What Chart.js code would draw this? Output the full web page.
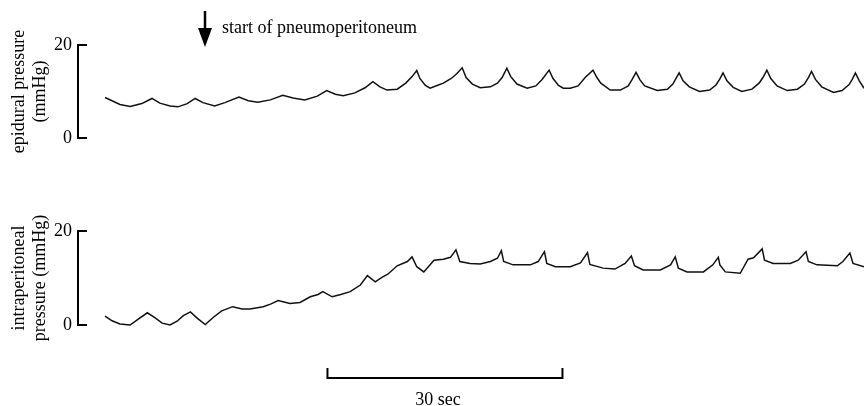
<!DOCTYPE html>
<html>
<head>
<meta charset="utf-8">
<script src="https://cdn.jsdelivr.net/npm/chart.js@4"></script>
<style>
    body { margin: 0; background: #fff; }
    #quadro { position: relative; width: 864px; height: 406px; }
    canvas { position: absolute; left: 0; }
</style>
</head>
<body>
<div id="quadro">
    <canvas id="graficoEpidural" width="864" height="160" style="top:0"></canvas>
    <canvas id="graficoPeritoneal" width="864" height="246" style="top:160px"></canvas>
</div>
<script>
// tempo em segundos, pressao em mmHg
const tempoEpidural = [
    0.0, 0.9, 1.9, 3.2, 4.7, 6.0, 7.0, 8.3, 9.3, 10.5, 11.5, 12.5, 14.0, 15.3, 17.1, 18.3, 19.5, 21.1,
    22.7, 24.0, 25.5, 27.1, 28.3, 29.4, 30.4, 31.9, 33.2, 34.2, 35.1, 36.0, 37.3, 38.4, 39.2, 39.8,
    40.2, 40.9, 41.5, 42.4, 43.2, 44.2, 44.9, 45.6, 46.1, 46.9, 47.9, 49.2, 50.1, 50.7, 51.3, 51.8,
    52.6, 53.9, 55.0, 55.8, 56.7, 57.2, 57.9, 58.5, 59.4, 60.4, 61.3, 62.3, 62.8, 63.3, 64.5, 65.8,
    66.8, 67.3, 67.8, 68.3, 68.9, 70.5, 71.8, 72.5, 72.9, 73.3, 73.8, 74.6, 75.9, 77.2, 78.0, 78.5,
    78.9, 79.4, 80.2, 81.3, 82.6, 83.5, 84.0, 84.5, 85.0, 85.8, 87.1, 88.4, 89.3, 89.8, 90.2, 90.7,
    91.5, 93.0, 94.1, 95.0, 95.4, 95.8, 96.3, 96.9
];
const pressaoEpidural = [
    8.7, 8.0, 7.2, 6.8, 7.4, 8.5, 7.5, 6.9, 6.7, 7.4, 8.5, 7.6, 6.9, 7.6, 8.8, 8.0, 7.7, 8.2,
    9.2, 8.6, 8.2, 9.0, 10.2, 9.4, 9.1, 9.7, 10.8, 12.1, 11.0, 10.3, 10.5, 11.8, 13.2, 14.5,
    12.8, 11.3, 10.7, 11.3, 11.8, 12.8, 13.8, 15.1, 13.0, 11.6, 10.8, 11.0, 11.8, 13.0, 15.0, 13.2,
    11.6, 10.7, 11.2, 12.6, 14.6, 12.8, 11.3, 10.7, 10.7, 11.2, 13.0, 14.6, 13.0, 11.8, 10.3, 10.3,
    11.2, 12.6, 14.1, 12.5, 11.2, 10.2, 10.5, 11.6, 12.8, 14.0, 12.3, 11.0, 10.0, 10.3, 11.4, 12.7,
    14.0, 12.3, 10.9, 10.0, 10.5, 11.8, 13.0, 14.6, 12.8, 11.2, 10.2, 10.5, 11.6, 13.0, 14.3, 12.6,
    11.0, 9.8, 10.2, 11.5, 12.6, 14.0, 12.3, 10.7
];

const tempoPeritoneal = [
    0.0, 0.9, 1.9, 3.2, 4.2, 5.4, 6.4, 7.3, 8.3, 9.2, 10.0, 10.9, 11.8, 12.8, 13.8, 14.9, 16.3, 17.5,
    18.5, 20.2, 21.2, 22.1, 23.6, 24.9, 26.2, 27.2, 27.8, 29.0, 30.1, 31.3, 32.6, 33.5, 34.5, 35.4,
    36.1, 37.3, 38.6, 39.2, 39.8, 40.7, 42.0, 43.2, 44.1, 44.8, 45.3, 46.6, 47.9, 49.2, 50.1, 50.6,
    50.9, 52.1, 54.3, 55.3, 56.1, 56.4, 57.5, 59.4, 60.7, 61.6, 61.9, 63.6, 65.1, 66.4, 67.2, 67.6,
    68.7, 70.9, 72.2, 72.8, 73.2, 74.3, 76.4, 77.6, 78.3, 78.5, 79.2, 81.1, 82.1, 82.8, 83.9, 84.2,
    85.3, 87.5, 88.5, 89.5, 89.8, 90.9, 93.5, 94.2, 95.1, 95.5, 96.9
];
const pressaoPeritoneal = [
    1.9, 0.9, 0.2, 0.0, 1.2, 2.6, 1.5, 0.4, 0.0, 0.8, 2.0, 2.8, 1.4, 0.1, 1.6, 3.0, 3.9, 3.4,
    3.4, 3.9, 4.5, 5.2, 4.6, 4.8, 6.0, 6.5, 7.1, 6.0, 6.5, 7.1, 8.5, 10.5, 9.2, 10.2,
    10.8, 12.6, 13.5, 14.5, 12.4, 11.3, 13.8, 14.0, 14.4, 16.0, 13.5, 13.1, 13.0, 13.5, 14.2, 15.8,
    13.5, 12.8, 12.8, 13.5, 15.6, 13.1, 12.4, 12.4, 13.2, 15.4, 12.9, 12.1, 11.9, 13.1, 14.7, 12.6,
    11.7, 11.7, 12.8, 14.5, 12.1, 11.3, 11.3, 12.8, 14.4, 12.8, 11.3, 11.0, 14.0, 14.3, 16.2, 13.8,
    13.1, 13.1, 13.8, 15.6, 13.5, 12.8, 12.6, 13.5, 15.3, 13.1, 12.4
];

const ticksPressao = [0, 20];
const inicioPneumo = 12.8;
const barraEscala = [28.4, 58.4];

const fonteSerif = "'Liberation Serif', 'Times New Roman', serif";
Chart.defaults.font.family = fonteSerif;
Chart.defaults.color = "#000";

function pontos(tempos, valores) {
    return tempos.map((t, i) => ({ x: t, y: valores[i] }));
}

// eixo vertical com os tracos voltados para dentro
const eixoManual = {
    id: "eixoManual",
    afterDraw(chart) {
        const ctx = chart.ctx;
        const y = chart.scales.y;
        const x0 = chart.chartArea.left;
        ctx.save();
        ctx.strokeStyle = "#000";
        ctx.lineWidth = 2;
        ctx.beginPath();
        ctx.moveTo(x0 + 9, y.getPixelForValue(20));
        ctx.lineTo(x0, y.getPixelForValue(20));
        ctx.lineTo(x0, y.getPixelForValue(0));
        ctx.lineTo(x0 + 9, y.getPixelForValue(0));
        ctx.stroke();
        ctx.restore();
    }
};

const setaInicio = {
    id: "setaInicio",
    afterDraw(chart) {
        const ctx = chart.ctx;
        const x = Math.round(chart.scales.x.getPixelForValue(inicioPneumo));
        ctx.save();
        ctx.strokeStyle = "#000";
        ctx.fillStyle = "#000";
        ctx.lineWidth = 2.5;
        ctx.beginPath();
        ctx.moveTo(x, 11);
        ctx.lineTo(x, 31);
        ctx.stroke();
        ctx.beginPath();
        ctx.moveTo(x - 7, 28);
        ctx.lineTo(x + 7, 28);
        ctx.lineTo(x, 47);
        ctx.closePath();
        ctx.fill();
        ctx.font = "18px " + fonteSerif;
        ctx.textBaseline = "alphabetic";
        ctx.fillText("start of pneumoperitoneum", x + 17, 33);
        ctx.restore();
    }
};

const barraTempo = {
    id: "barraTempo",
    afterDraw(chart) {
        const ctx = chart.ctx;
        const xa = chart.scales.x.getPixelForValue(barraEscala[0]);
        const xb = chart.scales.x.getPixelForValue(barraEscala[1]);
        ctx.save();
        ctx.strokeStyle = "#000";
        ctx.lineWidth = 2;
        ctx.beginPath();
        ctx.moveTo(xa, 208);
        ctx.lineTo(xa, 218);
        ctx.lineTo(xb, 218);
        ctx.lineTo(xb, 208);
        ctx.stroke();
        ctx.font = "18px " + fonteSerif;
        ctx.textAlign = "center";
        ctx.textBaseline = "alphabetic";
        ctx.fillText("30 sec", (xa + xb) / 2 - 7, 245);
        ctx.restore();
    }
};

function criarGrafico(id, tempos, valores, titulo, padding, plugins) {
    return new Chart(document.getElementById(id), {
        type: "line",
        data: {
            datasets: [{
                data: pontos(tempos, valores),
                borderColor: "#111",
                borderWidth: 1.5,
                pointRadius: 0,
                tension: 0,
                clip: false
            }]
        },
        options: {
            responsive: false,
            animation: false,
            layout: { padding: padding },
            plugins: { legend: { display: false }, tooltip: { enabled: false } },
            scales: {
                x: {
                    type: "linear",
                    min: -3.45,
                    max: 96.9,
                    display: false
                },
                y: {
                    min: 0,
                    max: 20,
                    afterBuildTicks: function (escala) {
                        escala.ticks = ticksPressao.map(v => ({ value: v }));
                    },
                    afterFit: function (escala) {
                        escala.width = 78;
                    },
                    grid: { display: false, drawTicks: false },
                    border: { display: false },
                    ticks: { padding: 6, font: { size: 18 }, color: "#000" },
                    title: {
                        display: true,
                        text: titulo,
                        font: { size: 18 },
                        color: "#000",
                        padding: { top: 8, bottom: 0 }
                    }
                }
            }
        },
        plugins: plugins
    });
}

criarGrafico("graficoEpidural", tempoEpidural, pressaoEpidural,
    ["epidural pressure", "(mmHg)"],
    { top: 45, bottom: 22, left: 0, right: 0 },
    [eixoManual, setaInicio]);

criarGrafico("graficoPeritoneal", tempoPeritoneal, pressaoPeritoneal,
    ["intraperitoneal", "pressure (mmHg)"],
    { top: 71, bottom: 81, left: 0, right: 0 },
    [eixoManual, barraTempo]);
</script>
</body>
</html>
